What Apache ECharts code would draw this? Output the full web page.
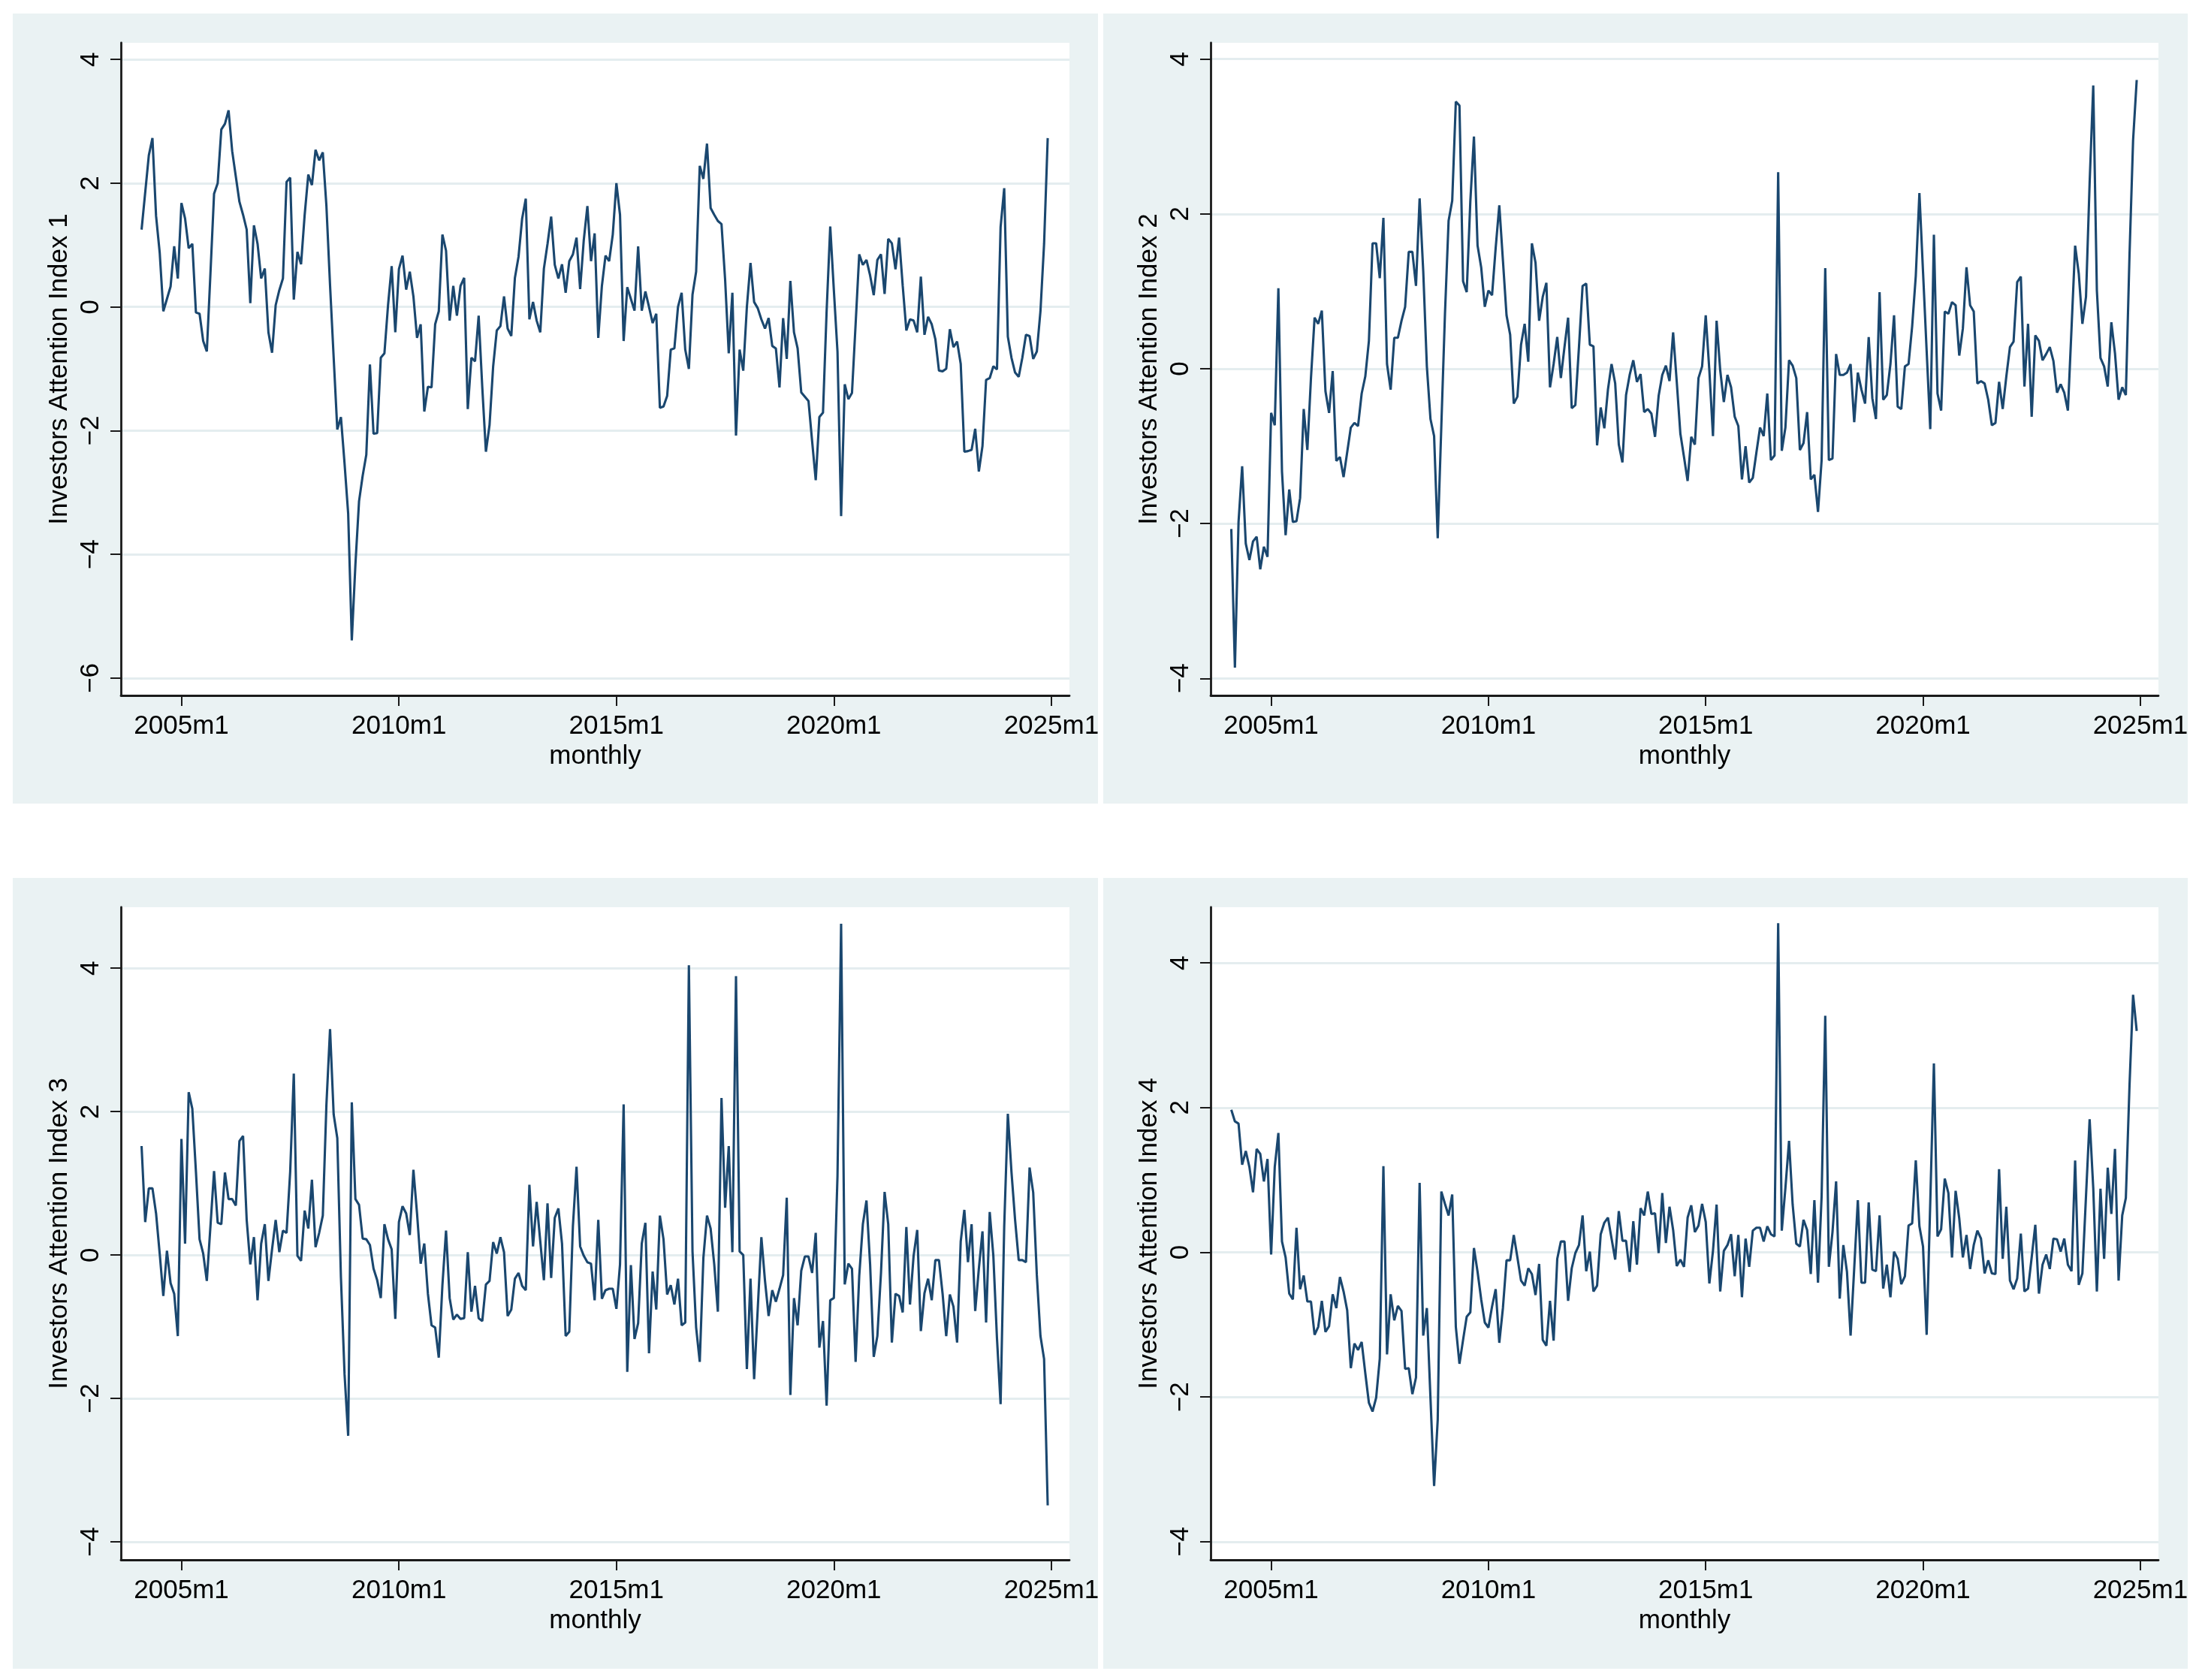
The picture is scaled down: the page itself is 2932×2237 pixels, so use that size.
<!DOCTYPE html>
<html>
<head>
<meta charset="utf-8">
<script src="https://cdn.jsdelivr.net/npm/echarts@6/dist/echarts.min.js"></script>
<style>
html,body{margin:0;padding:0;background:#fff;}
#chart{width:2932px;height:2237px;}
</style>
</head>
<body>
<div id="chart"></div>
<script>
// Months since 2005m1 (2005m1 = 0); data run from 2004m2 (-11) to 2024m12 (239)
const firstMonth = -11;
const lastMonth = 239;
const months = [];
for (let m = firstMonth; m <= lastMonth; m++) months.push(m);

const xTickMonths = [0, 60, 120, 180, 240];
const xTitle = 'monthly';

const index1 = [
  1.25, 1.85, 2.45, 2.73, 1.47, 0.88, -0.07, 0.13, 0.33, 0.98, 0.46,
  1.68, 1.43, 0.95, 1.02, -0.09, -0.11, -0.55, -0.72, 0.54, 1.83,
  2.0, 2.87, 2.96, 3.18, 2.52, 2.11, 1.70, 1.49, 1.25, 0.06,
  1.32, 1.02, 0.46, 0.62, -0.41, -0.74, 0.03, 0.27, 0.46, 2.02,
  2.09, 0.12, 0.89, 0.69, 1.49, 2.14, 1.97, 2.54, 2.37, 2.50,
  1.63, 0.35, -0.82, -1.98, -1.78, -2.53, -3.34, -5.39, -4.16, -3.14,
  -2.73, -2.39, -0.93, -2.05, -2.04, -0.82, -0.75, 0.03, 0.66, -0.41,
  0.61, 0.83, 0.28, 0.57, 0.17, -0.50, -0.28, -1.69, -1.29, -1.30,
  -0.28, -0.07, 1.17, 0.91, -0.22, 0.34, -0.14, 0.34, 0.47, -1.65,
  -0.82, -0.88, -0.14, -1.30, -2.34, -1.91, -0.96, -0.38, -0.31, 0.17,
  -0.35, -0.47, 0.47, 0.81, 1.43, 1.75, -0.20, 0.08, -0.22, -0.41,
  0.62, 1.02, 1.46, 0.68, 0.46, 0.69, 0.23, 0.74, 0.85, 1.12,
  0.29, 1.08, 1.63, 0.74, 1.19, -0.50, 0.34, 0.83, 0.74, 1.17,
  2.0, 1.49, -0.55, 0.32, 0.13, -0.06, 0.98, -0.06, 0.25, 0.0,
  -0.26, -0.11, -1.63, -1.61, -1.44, -0.69, -0.67, 0.0, 0.23, -0.69,
  -1.0, 0.20, 0.57, 2.28, 2.07, 2.64, 1.60, 1.49, 1.39, 1.34,
  0.44, -0.75, 0.23, -2.08, -0.69, -1.03, 0.0, 0.71, 0.08, -0.02,
  -0.20, -0.35, -0.18, -0.63, -0.67, -1.30, -0.18, -0.84, 0.42, -0.41,
  -0.67, -1.38, -1.45, -1.52, -2.17, -2.80, -1.78, -1.71, -0.07, 1.30,
  0.27, -0.72, -3.38, -1.25, -1.49, -1.39, -0.28, 0.85, 0.68, 0.76,
  0.51, 0.19, 0.76, 0.85, 0.21, 1.10, 1.03, 0.61, 1.12, 0.34,
  -0.38, -0.20, -0.22, -0.41, 0.49, -0.45, -0.16, -0.28, -0.52, -1.03,
  -1.04, -1.0, -0.36, -0.65, -0.56, -0.92, -2.34, -2.33, -2.31, -1.97,
  -2.66, -2.25, -1.18, -1.15, -0.96, -1.01, 1.29, 1.92, -0.48, -0.82,
  -1.06, -1.13, -0.82, -0.45, -0.47, -0.84, -0.72, -0.07, 1.02, 2.73
];

const index2 = [
  -2.07, -3.86, -1.98, -1.26, -2.26, -2.47, -2.23, -2.17, -2.59, -2.30, -2.43,
  -0.57, -0.73, 1.04, -1.33, -2.15, -1.56, -1.98, -1.97, -1.67, -0.52,
  -1.05, -0.12, 0.66, 0.58, 0.75, -0.29, -0.57, -0.03, -1.19, -1.14,
  -1.40, -1.08, -0.76, -0.70, -0.74, -0.32, -0.10, 0.36, 1.62, 1.62,
  1.17, 1.95, 0.06, -0.27, 0.40, 0.40, 0.62, 0.80, 1.51, 1.51,
  1.07, 2.20, 1.26, 0.03, -0.65, -0.87, -2.19, -0.73, 0.71, 1.91,
  2.17, 3.45, 3.40, 1.13, 0.99, 2.16, 3.00, 1.59, 1.31, 0.80,
  1.01, 0.95, 1.56, 2.11, 1.40, 0.69, 0.44, -0.45, -0.36, 0.31,
  0.58, 0.09, 1.62, 1.37, 0.62, 0.93, 1.11, -0.24, 0.06, 0.41,
  -0.12, 0.28, 0.66, -0.51, -0.47, 0.28, 1.07, 1.10, 0.31, 0.29,
  -0.99, -0.50, -0.77, -0.27, 0.06, -0.19, -0.98, -1.21, -0.34, -0.08,
  0.11, -0.17, -0.07, -0.56, -0.52, -0.58, -0.88, -0.35, -0.08, 0.04,
  -0.16, 0.47, -0.17, -0.84, -1.14, -1.45, -0.88, -0.98, -0.12, 0.03,
  0.69, -0.02, -0.87, 0.62, -0.02, -0.43, -0.08, -0.24, -0.62, -0.74,
  -1.43, -1.00, -1.47, -1.41, -1.08, -0.76, -0.87, -0.32, -1.18, -1.12,
  2.54, -1.06, -0.76, 0.11, 0.04, -0.12, -1.05, -0.96, -0.56, -1.43,
  -1.37, -1.85, -1.18, 1.30, -1.18, -1.16, 0.19, -0.08, -0.08, -0.05,
  0.06, -0.69, -0.05, -0.27, -0.45, 0.41, -0.38, -0.65, 0.99, -0.40,
  -0.34, 0.06, 0.69, -0.49, -0.52, 0.03, 0.06, 0.55, 1.20, 2.27,
  1.25, 0.23, -0.78, 1.73, -0.32, -0.54, 0.74, 0.71, 0.86, 0.82,
  0.17, 0.52, 1.31, 0.82, 0.74, -0.19, -0.16, -0.19, -0.40, -0.73,
  -0.70, -0.17, -0.52, -0.10, 0.28, 0.35, 1.12, 1.19, -0.23, 0.58,
  -0.62, 0.43, 0.36, 0.11, 0.19, 0.28, 0.10, -0.31, -0.20, -0.31,
  -0.54, 0.52, 1.59, 1.23, 0.58, 0.93, 2.40, 3.66, 1.01, 0.14,
  0.03, -0.23, 0.60, 0.20, -0.40, -0.24, -0.34, 1.45, 2.95, 3.73
];

const index3 = [
  1.52, 0.46, 0.93, 0.93, 0.58, 0.02, -0.57, 0.06, -0.39, -0.54, -1.13,
  1.62, 0.16, 2.27, 2.04, 1.16, 0.22, 0.02, -0.36, 0.40, 1.17,
  0.45, 0.43, 1.15, 0.78, 0.78, 0.69, 1.59, 1.66, 0.49, -0.13,
  0.25, -0.63, 0.16, 0.43, -0.36, 0.08, 0.49, 0.04, 0.34, 0.31,
  1.16, 2.53, -0.01, -0.08, 0.62, 0.37, 1.05, 0.11, 0.31, 0.55,
  2.10, 3.15, 1.96, 1.63, -0.31, -1.66, -2.52, 2.13, 0.78, 0.70,
  0.23, 0.22, 0.14, -0.19, -0.35, -0.60, 0.43, 0.22, 0.08, -0.89,
  0.46, 0.68, 0.58, 0.28, 1.19, 0.58, -0.12, 0.16, -0.54, -0.98,
  -1.01, -1.43, -0.42, 0.34, -0.60, -0.90, -0.83, -0.89, -0.88, 0.04,
  -0.79, -0.43, -0.88, -0.92, -0.41, -0.36, 0.18, 0.02, 0.25, 0.04,
  -0.85, -0.76, -0.33, -0.25, -0.43, -0.49, 0.98, 0.12, 0.74, 0.19,
  -0.35, 0.72, -0.32, 0.52, 0.65, 0.16, -1.13, -1.07, 0.40, 1.23,
  0.12, -0.01, -0.10, -0.12, -0.63, 0.49, -0.61, -0.49, -0.47, -0.47,
  -0.75, -0.13, 2.10, -1.63, -0.14, -1.17, -0.95, 0.16, 0.45, -1.37,
  -0.23, -0.76, 0.55, 0.22, -0.55, -0.42, -0.69, -0.33, -0.98, -0.94,
  4.04, 0.05, -1.01, -1.49, -0.04, 0.55, 0.37, -0.13, -0.79, 2.19,
  0.66, 1.52, 0.04, 3.89, 0.05, 0.0, -1.59, -0.33, -1.73, -0.75,
  0.25, -0.36, -0.85, -0.49, -0.65, -0.47, -0.28, 0.80, -1.95, -0.60,
  -0.98, -0.22, -0.02, -0.02, -0.25, 0.31, -1.29, -0.92, -2.10, -0.63,
  -0.60, 1.10, 4.62, -0.41, -0.12, -0.19, -1.49, -0.29, 0.43, 0.76,
  -0.13, -1.42, -1.13, -0.25, 0.88, 0.43, -1.22, -0.54, -0.57, -0.80,
  0.39, -0.69, -0.01, 0.35, -1.06, -0.53, -0.33, -0.63, -0.07, -0.07,
  -0.54, -1.13, -0.55, -0.72, -1.22, 0.19, 0.63, -0.10, 0.43, -0.78,
  -0.19, 0.33, -0.94, 0.60, -0.01, -1.16, -2.08, 0.40, 1.97, 1.16,
  0.49, -0.07, -0.07, -0.10, 1.22, 0.87, -0.28, -1.13, -1.45, -3.49
];

const index4 = [
  1.97, 1.81, 1.78, 1.21, 1.40, 1.18, 0.83, 1.43, 1.36, 0.98, 1.29,
  -0.03, 1.18, 1.65, 0.15, -0.07, -0.57, -0.65, 0.34, -0.51, -0.32,
  -0.68, -0.68, -1.14, -1.03, -0.67, -1.10, -1.02, -0.58, -0.77, -0.34,
  -0.54, -0.80, -1.60, -1.26, -1.35, -1.24, -1.67, -2.08, -2.20, -2.01,
  -1.47, 1.19, -1.41, -0.58, -0.94, -0.74, -0.81, -1.61, -1.60, -1.96,
  -1.73, 0.96, -1.15, -0.77, -2.02, -3.23, -2.31, 0.84, 0.67, 0.51,
  0.80, -1.03, -1.54, -1.21, -0.89, -0.83, 0.06, -0.27, -0.65, -0.97,
  -1.04, -0.75, -0.51, -1.25, -0.77, -0.11, -0.11, 0.24, -0.07, -0.39,
  -0.46, -0.22, -0.30, -0.59, -0.16, -1.21, -1.29, -0.67, -1.22, -0.09,
  0.15, 0.15, -0.67, -0.22, -0.01, 0.10, 0.51, -0.26, 0.01, -0.54,
  -0.46, 0.25, 0.41, 0.48, 0.19, -0.10, 0.57, 0.16, 0.16, -0.27,
  0.43, -0.17, 0.61, 0.51, 0.84, 0.53, 0.54, -0.01, 0.82, 0.13,
  0.63, 0.31, -0.19, -0.10, -0.20, 0.48, 0.65, 0.28, 0.37, 0.67,
  0.42, -0.43, 0.02, 0.66, -0.54, 0.02, 0.10, 0.25, -0.33, 0.24,
  -0.62, 0.19, -0.20, 0.30, 0.34, 0.34, 0.15, 0.36, 0.25, 0.22,
  4.55, 0.30, 0.89, 1.54, 0.66, 0.12, 0.08, 0.45, 0.31, -0.30,
  0.72, -0.42, 0.78, 3.27, -0.20, 0.28, 0.98, -0.64, 0.10, -0.27,
  -1.15, -0.22, 0.72, -0.42, -0.42, 0.69, -0.24, -0.26, 0.51, -0.50,
  -0.17, -0.62, 0.01, -0.09, -0.44, -0.33, 0.37, 0.40, 1.27, 0.36,
  0.08, -1.14, 0.70, 2.61, 0.22, 0.32, 1.02, 0.82, -0.07, 0.85,
  0.47, -0.07, 0.24, -0.23, 0.10, 0.30, 0.19, -0.29, -0.11, -0.29,
  -0.30, 1.15, -0.09, 0.63, -0.39, -0.51, -0.36, 0.26, -0.54, -0.50,
  -0.07, 0.38, -0.57, -0.17, -0.03, -0.23, 0.19, 0.18, 0.01, 0.19,
  -0.17, -0.26, 1.27, -0.45, -0.29, 0.78, 1.84, 0.89, -0.54, 0.88,
  -0.09, 1.17, 0.53, 1.43, -0.39, 0.51, 0.75, 2.29, 3.56, 3.06
];

const yTitles = [
  'Investors Attention Index 1',
  'Investors Attention Index 2',
  'Investors Attention Index 3',
  'Investors Attention Index 4'
];
const yTicks1 = [-6, -4, -2, 0, 2, 4];
const yTicks2 = [-4, -2, 0, 2, 4];
const yTicks3 = [-4, -2, 0, 2, 4];
const yTicks4 = [-4, -2, 0, 2, 4];

const seriesValues = [index1, index2, index3, index4];
const yTickSets = [yTicks1, yTicks2, yTicks3, yTicks4];

// layout (pixels)
const yRanges = [[-6.28, 4.27], [-4.22, 4.21], [-4.25, 4.85], [-4.25, 4.77]];
const gridBoxes = [
  {left: 161, top: 57, width: 1263, height: 869},
  {left: 1612, top: 57, width: 1262, height: 869},
  {left: 161, top: 1208, width: 1263, height: 869},
  {left: 1612, top: 1208, width: 1262, height: 869}
];
const panelBoxes = [
  {x: 17, y: 18, width: 1445, height: 1052},
  {x: 1469, y: 18, width: 1444, height: 1052},
  {x: 17, y: 1169, width: 1445, height: 1053},
  {x: 1469, y: 1169, width: 1444, height: 1053}
];

const FONT = '"Liberation Sans", Arial, Helvetica, sans-serif';
const AXIS_COLOR = '#1a1a1a';
const TEXT_COLOR = '#000000';
const PANEL_BG = '#EAF2F3';
const GRID_LINE = '#E4EDEF';
const LINE_COLOR = '#1A476F';

function minusFmt(v) {
  return String(v).replace('-', '\u2212');
}

const grids = [], xAxes = [], yAxes = [], series = [];
for (let i = 0; i < 4; i++) {
  grids.push(Object.assign({
    show: true, backgroundColor: '#ffffff', borderWidth: 0,
    containLabel: false, outerBoundsMode: 'none'
  }, gridBoxes[i]));
  xAxes.push({
    type: 'value', gridIndex: i, min: -16.7, max: 245,
    name: xTitle, nameLocation: 'middle', nameGap: 64,
    nameTextStyle: {fontFamily: FONT, fontSize: 35, color: TEXT_COLOR},
    axisLine: {show: true, onZero: false, lineStyle: {color: AXIS_COLOR, width: 2.8}},
    axisTick: {show: true, inside: false, length: 14, customValues: xTickMonths,
      lineStyle: {color: AXIS_COLOR, width: 2}},
    axisLabel: {show: true, margin: 24, customValues: xTickMonths,
      fontFamily: FONT, fontSize: 35, color: TEXT_COLOR,
      formatter: v => (2005 + Math.round(v / 12)) + 'm1'},
    splitLine: {show: false}
  });
  yAxes.push({
    type: 'value', gridIndex: i, min: yRanges[i][0], max: yRanges[i][1],
    name: yTitles[i], nameLocation: 'middle', nameGap: 64, nameRotate: 90,
    nameTextStyle: {fontFamily: FONT, fontSize: 35, color: TEXT_COLOR},
    axisLine: {show: true, onZero: false, lineStyle: {color: AXIS_COLOR, width: 2.8}},
    axisTick: {show: true, inside: false, length: 14, customValues: yTickSets[i],
      lineStyle: {color: AXIS_COLOR, width: 2}},
    axisLabel: {show: true, rotate: 90, margin: 22, customValues: yTickSets[i],
      fontFamily: FONT, fontSize: 35, color: TEXT_COLOR, formatter: minusFmt},
    splitLine: {show: true, lineStyle: {color: GRID_LINE, width: 3}}
  });
  series.push({
    type: 'line', xAxisIndex: i, yAxisIndex: i,
    data: months.map((m, k) => [m, seriesValues[i][k]]),
    showSymbol: false, symbol: 'none',
    lineStyle: {color: LINE_COLOR, width: 3.1},
    itemStyle: {color: LINE_COLOR},
    silent: true, animation: false
  });
}

const chart = echarts.init(document.getElementById('chart'), null, {renderer: 'canvas', width: 2932, height: 2237});
chart.setOption({
  backgroundColor: '#ffffff',
  animation: false,
  graphic: panelBoxes.map(b => ({
    type: 'rect', z: -10, silent: true,
    shape: {x: b.x, y: b.y, width: b.width, height: b.height},
    style: {fill: PANEL_BG}
  })),
  grid: grids,
  xAxis: xAxes,
  yAxis: yAxes,
  series: series
});
</script>
</body>
</html>
